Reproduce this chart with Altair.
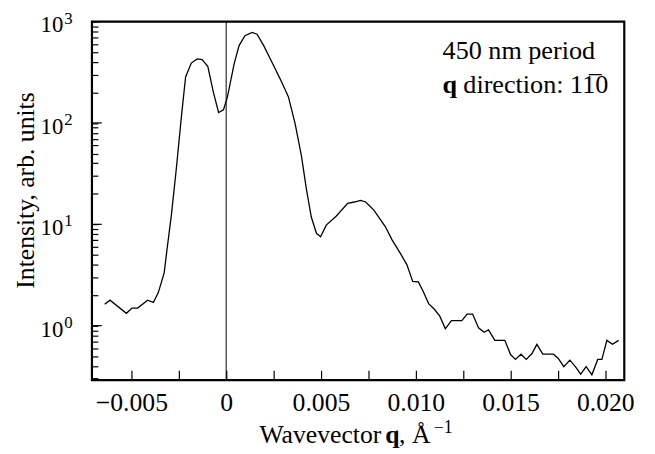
import altair as alt
import pandas as pd

# ---- data ----
q = [-0.00641, -0.00613, -0.00526, -0.00497, -0.00467, -0.00414, -0.00384, -0.00358,
     -0.00327, -0.00311, -0.00289, -0.00263, -0.00236, -0.00214, -0.00184, -0.00153,
     -0.00127, -0.00097, -0.00068, -0.00040, -0.00014, 0.00007, 0.00042, 0.00068,
     0.00099, 0.00137, 0.00163, 0.00198, 0.00241, 0.00284, 0.00328, 0.00363,
     0.00397, 0.00423, 0.00449, 0.00476, 0.00498, 0.00528, 0.00580, 0.00641,
     0.00675, 0.00710, 0.00736, 0.00779, 0.00840, 0.00875, 0.00918, 0.00953,
     0.00984, 0.01014, 0.01040, 0.01068, 0.01097, 0.01127, 0.01156, 0.01188,
     0.01243, 0.01271, 0.01300, 0.01331, 0.01361, 0.01384, 0.01417, 0.01470,
     0.01500, 0.01526, 0.01555, 0.01583, 0.01613, 0.01639, 0.01670, 0.01726,
     0.01752, 0.01781, 0.01813, 0.01842, 0.01870, 0.01899, 0.01929, 0.01960,
     0.01982, 0.02008, 0.02038, 0.02070]

intensity = [1.63, 1.785, 1.324, 1.49, 1.49, 1.785, 1.695, 2.12,
             3.32, 5.86, 12.3, 35.3, 116, 284, 390, 429,
             423, 362, 203, 127, 135, 182, 383, 580,
             726, 781, 752, 580, 399, 274, 182, 99.8,
             47.3, 22.4, 11.8, 8.15, 7.55, 9.82, 12.0, 16.1,
             16.6, 17.2, 16.6, 13.8, 9.45, 7.02, 5.2, 4.0,
             2.73, 2.70, 2.16, 1.65, 1.46, 1.24, 0.93, 1.12,
             1.12, 1.30, 1.30, 0.952, 0.86, 0.91, 0.716, 0.716,
             0.519, 0.464, 0.523, 0.464, 0.531, 0.654, 0.523, 0.523,
             0.475, 0.394, 0.457, 0.394, 0.332, 0.394, 0.327, 0.464,
             0.464, 0.716, 0.654, 0.716]

x_ticks = [-0.005, -0.0025, 0.0, 0.0025, 0.005, 0.0075, 0.01, 0.0125,
           0.015, 0.0175, 0.02]
y_ticks = [0.3, 0.4, 0.5, 0.6, 0.7, 0.8, 0.9,
           1, 2, 3, 4, 5, 6, 7, 8, 9,
           10, 20, 30, 40, 50, 60, 70, 80, 90,
           100, 200, 300, 400, 500, 600, 700, 800, 900, 1000]
decades = [1, 10, 100, 1000]
exponents = ["0", "1", "2", "3"]
zero_line = [0.0]

SERIF = "Liberation Serif"

df = pd.DataFrame({"q": q, "I": intensity})
dec_df = pd.DataFrame({"d": decades, "e": exponents})
zero_df = pd.DataFrame({"z": zero_line})
one = pd.DataFrame({"a": [0]})

xscale = alt.Scale(domain=[-0.00708, 0.0210], nice=False, zero=False)
yscale = alt.Scale(type="log", domain=[0.29, 1000], nice=False)

xaxis = alt.Axis(
    values=x_ticks, title=None, grid=False, domain=False,
    tickSize={"expr": "-10"}, tickColor="black", tickWidth=1.2,
    labelExpr="abs(datum.value*200 - round(datum.value*200)) < 0.001 ? "
              "(abs(datum.value) < 1e-9 ? '0' : format(datum.value, '.3f')) : ''",
    labelFont=SERIF, labelFontSize=26, labelColor="black", labelPadding=20,
    labelFlush=False, labelOverlap=False,
)
yaxis = alt.Axis(
    values=y_ticks, title=None, grid=False, domain=False, labels=False,
    tickSize={"expr": "-6"}, tickColor="black", tickWidth=1.2,
)

line = alt.Chart(df).mark_line(color="black", strokeWidth=1.3).encode(
    x=alt.X("q:Q", scale=xscale, axis=xaxis),
    y=alt.Y("I:Q", scale=yscale, axis=yaxis),
)

zero_rule = alt.Chart(zero_df).mark_rule(color="black", strokeWidth=1).encode(
    x=alt.X("z:Q", scale=xscale)
)

major_ticks = alt.Chart(dec_df).mark_rule(color="black", strokeWidth=1.2).encode(
    y=alt.Y("d:Q", scale=yscale), x=alt.value(0), x2=alt.value(10)
)

ylab = alt.Chart(dec_df).mark_text(
    align="right", baseline="middle", dy=4, font=SERIF, fontSize=23, color="black"
).encode(y=alt.Y("d:Q", scale=yscale), x=alt.value(-29), text=alt.value("10"))

yexp = alt.Chart(dec_df).mark_text(
    align="left", baseline="middle", dy=-3, font=SERIF, fontSize=17, color="black"
).encode(y=alt.Y("d:Q", scale=yscale), x=alt.value(-28), text="e:N")

ytitle = alt.Chart(one).mark_text(
    align="center", baseline="middle", angle=270, font=SERIF, fontSize=26, color="black"
).encode(x=alt.value(-67), y=alt.value(171), text=alt.value("Intensity, arb. units"))

xt1 = alt.Chart(one).mark_text(
    align="right", baseline="alphabetic", font=SERIF, fontSize=26, color="black"
).encode(x=alt.value(293), y=alt.value(427), text=alt.value("Wavevector"))
xt2 = alt.Chart(one).mark_text(
    align="left", baseline="alphabetic", font=SERIF, fontSize=26, fontWeight="bold", color="black"
).encode(x=alt.value(297), y=alt.value(427), text=alt.value("q"))
xt3 = alt.Chart(one).mark_text(
    align="left", baseline="alphabetic", font=SERIF, fontSize=26, color="black"
).encode(x=alt.value(311), y=alt.value(427), text=alt.value(", Å"))
xt4 = alt.Chart(one).mark_text(
    align="left", baseline="alphabetic", font=SERIF, fontSize=18, color="black"
).encode(x=alt.value(346), y=alt.value(417), text=alt.value("\u22121"))

ann1 = alt.Chart(one).mark_text(
    align="left", baseline="alphabetic", font=SERIF, fontSize=26.5, color="black"
).encode(x=alt.value(355), y=alt.value(38), text=alt.value("450 nm period"))
ann2 = alt.Chart(one).mark_text(
    align="left", baseline="alphabetic", font=SERIF, fontSize=26.5, fontWeight="bold", color="black"
).encode(x=alt.value(355), y=alt.value(72), text=alt.value("q"))
ann3 = alt.Chart(one).mark_text(
    align="left", baseline="alphabetic", font=SERIF, fontSize=26.5, color="black"
).encode(x=alt.value(376), y=alt.value(72), text=alt.value("direction: 11\u03050"))

chart = alt.layer(
    zero_rule, line, major_ticks, ylab, yexp, ytitle, xt1, xt2, xt3, xt4, ann1, ann2, ann3
).properties(
    width=539, height=363,
    padding={"left": 85, "top": 11, "right": 23, "bottom": 72},
    autosize="none",
).configure_view(stroke="black", strokeWidth=2.2)

chart.save("out.html", embed_options={"renderer": "svg", "actions": False})
